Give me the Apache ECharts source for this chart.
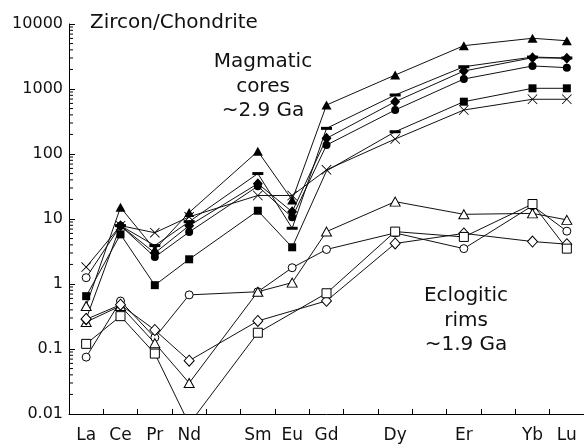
<!DOCTYPE html>
<html>
<head>
<meta charset="utf-8">
<script src="https://cdn.jsdelivr.net/npm/echarts@6/dist/echarts.min.js"></script>
<style>
html,body{margin:0;padding:0;background:#fff;}
#chart{width:584px;height:446px;}
</style>
</head>
<body>
<div id="chart"></div>
<script>
// Rare earth elements (slots for Pm, Tb, Ho, Tm are kept unlabeled)
var elements = ['La','Ce','Pr','Nd','Pm','Sm','Eu','Gd','Tb','Dy','Ho','Er','Tm','Yb','Lu'];
var elementLabels = ['La','Ce','Pr','Nd','','Sm','Eu','Gd','','Dy','','Er','','Yb','Lu'];
var yTickLabels = ['0.01','0.1','1','10','100','1000','10000'];

// Magmatic cores (~2.9 Ga), filled symbols
var coreTriangle = [0.46, 15.1, 3.4, 12.6, null, 110, 19.6, 567, null, 1640, null, 4640, null, 6030, 5530];
var coreDash     = [null, 7.9, 3.9, 9.1, null, 50, 7.2, 248, null, 809, null, 2200, null, 3100, 3000];
var coreDiamond  = [0.29, 7.9, 3.0, 7.9, null, 35, 12.9, 174, null, 638, null, 1890, null, 3030, 2970];
var coreCircle   = [1.25, 7.9, 2.6, 6.3, null, 32, 10.6, 137, null, 475, null, 1425, null, 2260, 2130];
var coreSquare   = [0.65, 5.8, 0.96, 2.4, null, 13.4, 3.67, 55, null, 220, null, 638, null, 1025, 1025];
var coreCross    = [1.82, 7.9, 6.15, 10.8, null, 23, 23, 57, null, 170, null, 475, null, 695, 695];

// Eclogitic rims (~1.9 Ga), open symbols
var rimCircle   = [0.075, 0.547, 0.15, 0.68, null, 0.76, 1.78, 3.4, null, 6.1, null, 3.5, null, 16, 6.5];
var rimTriangle = [0.26, 0.46, 0.123, 0.030, null, 0.76, 1.05, 6.4, null, 18.5, null, 11.8, null, 12.2, 9.7];
var rimDiamond  = [0.286, 0.48, 0.196, 0.066, null, 0.27, null, 0.55, null, 4.2, null, 6.0, null, 4.5, 4.1];
var rimSquare   = [0.12, 0.32, 0.085, 0.007, null, 0.178, null, 0.72, null, 6.4, null, 5.3, null, 17, 3.5];

var FONT = 'DejaVu Sans';
var crossPath = 'path://M0,0.6L0.6,0L5,4.4L9.4,0L10,0.6L5.6,5L10,9.4L9.4,10L5,5.6L0.6,10L0,9.4L4.4,5Z';

var SYM = {
  triangle: {symbol: 'triangle', size: [10, 9]},
  dash: {symbol: 'rect', size: [11, 3]},
  diamond: {symbol: 'diamond', size: [10, 11]},
  circle: {symbol: 'circle', size: 8},
  square: {symbol: 'rect', size: 8},
  cross: {symbol: crossPath, size: 10},
  oTriangle: {symbol: 'triangle', size: [10, 9]},
  oCircle: {symbol: 'circle', size: 8},
  oDiamond: {symbol: 'diamond', size: [10, 11]},
  oSquare: {symbol: 'rect', size: 9}
};

function mkData(vals, overrides) {
  return vals.map(function (v, i) {
    if (v === null) return '-';
    var item = {value: v};
    if (overrides && overrides[i]) {
      for (var k in overrides[i]) item[k] = overrides[i][k];
    }
    return item;
  });
}

var openStyle = {itemStyle: {color: '#fff', borderColor: '#000', borderWidth: 1}};

function mkSeries(name, vals, sym, filled, overrides) {
  return {
    name: name,
    type: 'line',
    data: mkData(vals, overrides),
    connectNulls: true,
    symbol: sym.symbol,
    symbolSize: sym.size,
    showAllSymbol: true,
    clip: true,
    lineStyle: {color: '#111', width: 1},
    itemStyle: filled ? {color: '#000', borderColor: '#000', borderWidth: 0}
                      : {color: '#fff', borderColor: '#000', borderWidth: 1},
    emphasis: {disabled: true},
    z: 3
  };
}

// minor log ticks (2..9 in each decade)
var minorTicks = [];
for (var e = -2; e < 4; e++) {
  for (var m = 2; m <= 9; m++) minorTicks.push([0, m * Math.pow(10, e)]);
}

var series = [
  mkSeries('rimCircle', rimCircle, SYM.oCircle, false),
  mkSeries('rimTriangle', rimTriangle, SYM.oTriangle, false),
  mkSeries('rimDiamond', rimDiamond, SYM.oDiamond, false),
  mkSeries('rimSquare', rimSquare, SYM.oSquare, false),
  mkSeries('coreCross', coreCross, SYM.cross, true),
  mkSeries('coreSquare', coreSquare, SYM.square, true, {
    7: {symbol: 'none'},
    9: {symbol: 'rect', symbolSize: [11, 3]}
  }),
  mkSeries('coreCircle', coreCircle, SYM.circle, true, {0: openStyle}),
  mkSeries('coreDash', coreDash, SYM.dash, true),
  mkSeries('coreDiamond', coreDiamond, SYM.diamond, true, {0: openStyle}),
  mkSeries('coreTriangle', coreTriangle, SYM.triangle, true, {0: openStyle}),
  {
    type: 'custom',
    silent: true,
    clip: false,
    data: minorTicks,
    z: 5,
    renderItem: function (params, api) {
      var y = api.coord([0, api.value(1)])[1];
      var x0 = params.coordSys.x;
      return {
        type: 'line',
        shape: {x1: x0, y1: y, x2: x0 + 4, y2: y},
        style: {stroke: '#000', lineWidth: 1}
      };
    }
  }
];

var chart = echarts.init(document.getElementById('chart'), null, {renderer: 'canvas'});
chart.setOption({
  animation: false,
  backgroundColor: '#fff',
  textStyle: {fontFamily: FONT},
  grid: {left: 69, right: 0, top: 24, bottom: 32, containLabel: false},
  xAxis: {
    type: 'category',
    data: elements,
    boundaryGap: true,
    axisLine: {show: true, lineStyle: {color: '#000', width: 1}},
    axisTick: {show: true, inside: true, length: 5, alignWithLabel: false, lineStyle: {color: '#000'}},
    axisLabel: {
      show: true, interval: 0, margin: 13,
      fontFamily: FONT, fontSize: 17, color: '#111',
      formatter: function (v, i) { return elementLabels[i]; }
    },
    splitLine: {show: false}
  },
  yAxis: {
    type: 'log',
    logBase: 10,
    min: 0.01,
    max: 10000,
    axisLine: {show: true, lineStyle: {color: '#000', width: 1}},
    axisTick: {show: true, inside: true, length: 6, lineStyle: {color: '#000'}},
    axisLabel: {
      show: true, margin: 6, fontFamily: FONT, fontSize: 16, color: '#111',
      formatter: function (v) {
        var idx = Math.round(Math.log10(v)) + 2;
        return yTickLabels[idx] !== undefined ? yTickLabels[idx] : '';
      }
    },
    splitLine: {show: false},
    minorTick: {show: false}
  },
  graphic: [
    {type: 'text', left: 90, top: 13,
     style: {text: 'Zircon/Chondrite', font: '20px "DejaVu Sans"', fill: '#111'}},
    {type: 'text', x: 263, y: 50,
     style: {text: 'Magmatic\ncores\n~2.9 Ga', font: '20px "DejaVu Sans"', fill: '#111',
             align: 'center', lineHeight: 24.5}},
    {type: 'text', x: 466, y: 284,
     style: {text: 'Eclogitic\nrims\n~1.9 Ga', font: '20px "DejaVu Sans"', fill: '#111',
             align: 'center', lineHeight: 24.5}}
  ],
  series: series
});
</script>
</body>
</html>
